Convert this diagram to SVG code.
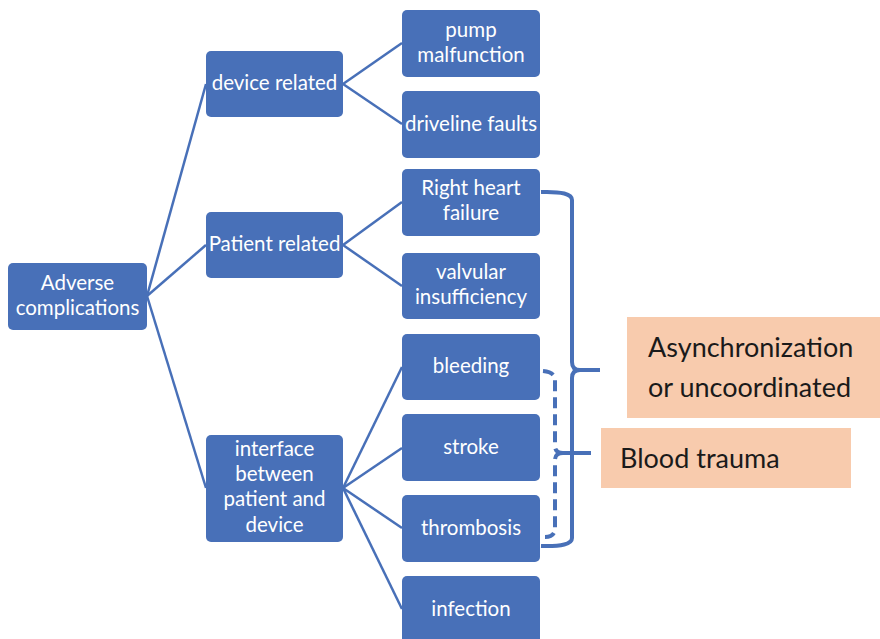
<svg xmlns="http://www.w3.org/2000/svg" width="880" height="639" viewBox="0 0 880 639">
<style>
.n rect{fill:#4870B8;}
.n text{fill:#fff;font-family:Lato,"Noto Sans",sans-serif;font-size:20.5px;text-anchor:middle;}
.c line{stroke:#4870B8;stroke-width:2.5;}
.b{fill:none;stroke:#4870B8;stroke-width:4;}
.o rect{fill:#F8CBAD;}
.o text{fill:#1a1a1a;font-family:Lato,"Noto Sans",sans-serif;font-size:27px;}
</style>
<rect width="880" height="639" fill="#fff"/>
<g class="c" id="connectors">
<line x1="147" y1="296" x2="206" y2="84"/>
<line x1="147" y1="296" x2="206" y2="245"/>
<line x1="147" y1="296" x2="206" y2="488"/>
<line x1="343" y1="84" x2="402" y2="43"/>
<line x1="343" y1="84" x2="402" y2="124"/>
<line x1="343" y1="245" x2="402" y2="202"/>
<line x1="343" y1="245" x2="402" y2="286"/>
<line x1="343" y1="488" x2="402" y2="367"/>
<line x1="343" y1="488" x2="402" y2="448"/>
<line x1="343" y1="488" x2="402" y2="528"/>
<line x1="343" y1="488" x2="402" y2="609"/>
</g>
<g class="n" id="root"><rect x="8" y="263" width="139" height="67" rx="5"/><text x="77.5" y="290">Adverse</text><text x="77.5" y="315">complications</text></g>
<g class="n" id="device"><rect x="206" y="51" width="137" height="66" rx="5"/><text x="274.5" y="90">device related</text></g>
<g class="n" id="patient"><rect x="206" y="212" width="137" height="66" rx="5"/><text x="274.5" y="251">Patient related</text></g>
<g class="n" id="interface"><rect x="206" y="435" width="137" height="107" rx="5"/><text x="274.5" y="456">interface</text><text x="274.5" y="481">between</text><text x="274.5" y="506">patient and</text><text x="274.5" y="532">device</text></g>
<g class="n" id="pump"><rect x="402" y="10" width="138" height="67" rx="5"/><text x="471" y="37">pump</text><text x="471" y="62">malfunction</text></g>
<g class="n" id="driveline"><rect x="402" y="91" width="138" height="67" rx="5"/><text x="471" y="131">driveline faults</text></g>
<g class="n" id="rhf"><rect x="402" y="169" width="138" height="67" rx="5"/><text x="471" y="195">Right heart</text><text x="471" y="220">failure</text></g>
<g class="n" id="valvular"><rect x="402" y="253" width="138" height="66" rx="5"/><text x="471" y="279">valvular</text><text x="471" y="304">insufficiency</text></g>
<g class="n" id="bleeding"><rect x="402" y="334" width="138" height="66" rx="5"/><text x="471" y="373">bleeding</text></g>
<g class="n" id="stroke"><rect x="402" y="414" width="138" height="67" rx="5"/><text x="471" y="454">stroke</text></g>
<g class="n" id="thrombosis"><rect x="402" y="495" width="138" height="67" rx="5"/><text x="471" y="535">thrombosis</text></g>
<g class="n" id="infection"><rect x="402" y="576" width="138" height="70" rx="5"/><text x="471" y="616">infection</text></g>
<g id="brackets">
<path class="b" d="M541 192 Q572 191 572 200 L572 362 Q572 370 580 370 L600 370 M580 370 Q572 370 572 378 L572 538 Q572 547 541 546"/>
<path class="b" stroke-dasharray="11 6" d="M543 371 Q555 372 555 380 L555 446 Q555 453 563 453 M563 453 Q555 453 555 460 L555 528 Q555 537 545 537"/>
<path class="b" d="M560 453 L591 453"/>
</g>
<g class="o" id="async"><rect x="627" y="317" width="253" height="101"/><text x="648" y="357">Asynchronization</text><text x="648" y="397">or uncoordinated</text></g>
<g class="o" id="blood"><rect x="601" y="428" width="250" height="60"/><text x="620" y="468">Blood trauma</text></g>
</svg>
